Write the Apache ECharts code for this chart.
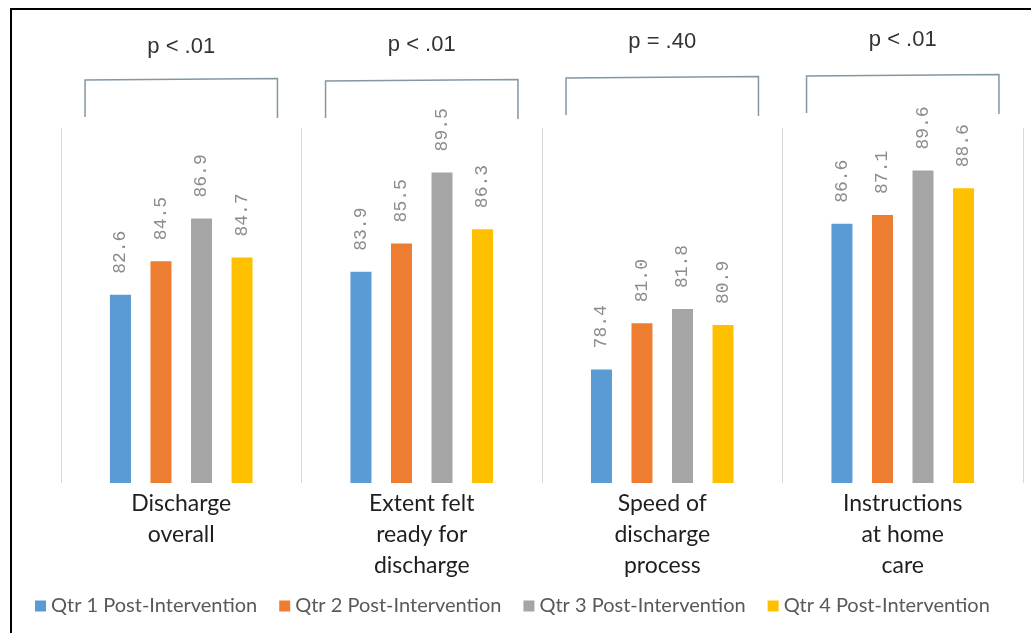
<!DOCTYPE html>
<html>
<head>
<meta charset="utf-8">
<script src="https://cdn.jsdelivr.net/npm/echarts@6/dist/echarts.min.js"></script>
<style>
  html, body { margin: 0; padding: 0; background: #fff; }
  #chart { width: 1031px; height: 633px; }
</style>
</head>
<body>
<div id="chart"></div>
<script>
// Patient-experience measures, one group of bars per measure
const categories = [
  'Discharge\noverall',
  'Extent felt\nready for\ndischarge',
  'Speed of\ndischarge\nprocess',
  'Instructions\nat home\ncare'
];
const seriesNames = [
  'Qtr 1 Post-Intervention',
  'Qtr 2 Post-Intervention',
  'Qtr 3 Post-Intervention',
  'Qtr 4 Post-Intervention'
];
const qtr1 = [82.6, 83.9, 78.4, 86.6];
const qtr2 = [84.5, 85.5, 81.0, 87.1];
const qtr3 = [86.9, 89.5, 81.8, 89.6];
const qtr4 = [84.7, 86.3, 80.9, 88.6];
const pValues = ['p < .01', 'p < .01', 'p = .40', 'p < .01'];

const colors = ['#5b9bd5', '#ed7d31', '#a5a5a5', '#ffc000'];
const seriesData = [qtr1, qtr2, qtr3, qtr4];

const chart = echarts.init(document.getElementById('chart'), null, { renderer: 'canvas' });

const option = {
  animation: false,
  backgroundColor: '#fff',
  color: colors,
  grid: { left: 61, right: 8, top: 128, bottom: 150 },
  legend: {
    data: seriesNames,
    left: 30,
    top: 591,
    itemWidth: 11,
    itemHeight: 11,
    itemGap: 22,
    icon: 'rect',
    textStyle: { fontFamily: 'Lato', fontSize: 20, color: '#595959' }
  },
  xAxis: {
    type: 'category',
    data: categories,
    axisLine: { show: false },
    axisTick: { show: false },
    splitLine: { show: true, lineStyle: { color: '#d9d9d9', width: 1 } },
    axisLabel: {
      margin: 5,
      fontFamily: 'Lato',
      fontSize: 23,
      lineHeight: 31,
      color: '#1f1f1f',
      verticalAlign: 'top'
    }
  },
  yAxis: {
    type: 'value',
    min: 72,
    max: 92,
    show: false,
    splitLine: { show: false }
  },
  series: seriesData.map((vals, i) => ({
    name: seriesNames[i],
    type: 'bar',
    data: vals,
    barWidth: 21,
    barGap: '93%',
    label: {
      show: true,
      position: 'top',
      rotate: 90,
      align: 'left',
      verticalAlign: 'middle',
      distance: 21,
      fontFamily: 'Liberation Mono',
      fontSize: 18,
      color: '#8c8c8c',
      formatter: p => p.value.toFixed(1)
    }
  }))
};

chart.setOption(option);

// Significance brackets and p-values above each group
function drawBrackets() {
  const grid = chart.getModel().getComponent('grid', 0).coordinateSystem.getRect();
  const band = grid.width / categories.length;
  const bracketTop = [80, 81, 78, 76];
  const textY = [47, 45, 42, 40];
  const elements = [{
    type: 'rect',
    shape: { x: 11, y: 9, width: 1200, height: 800 },
    style: { fill: 'none', stroke: '#000', lineWidth: 2 },
    silent: true
  }];
  categories.forEach((c, i) => {
    const cx = chart.convertToPixel({ xAxisIndex: 0 }, i);
    const half = band * 0.4;
    const y0 = bracketTop[i];
    elements.push({
      type: 'polyline',
      shape: { points: [[cx - half, y0 + 37], [cx - half, y0], [cx + half, y0 - 1.5], [cx + half, y0 + 38]] },
      style: { stroke: '#8397a5', lineWidth: 1.5, fill: 'none' },
      silent: true
    });
    elements.push({
      type: 'text',
      x: cx,
      y: textY[i],
      style: {
        text: pValues[i],
        align: 'center',
        verticalAlign: 'middle',
        fontFamily: 'Liberation Sans',
        fontSize: 22,
        fill: '#333'
      },
      silent: true
    });
  });
  chart.setOption({ graphic: elements });
}
drawBrackets();
</script>
</body>
</html>
